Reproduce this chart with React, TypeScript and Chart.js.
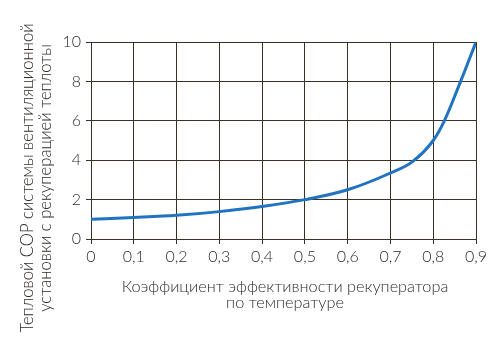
import React, { useEffect, useRef } from "react";
import { Chart, registerables } from "chart.js";

Chart.register(...registerables);

const efficiency = [0, 0.1, 0.2, 0.3, 0.4, 0.5, 0.6, 0.7, 0.75, 0.8, 0.826, 0.864, 0.9];
const cop = [1.0, 1.09, 1.2, 1.39, 1.65, 2.0, 2.5, 3.35, 3.9, 5.0, 6.0, 8.0, 10.0];
const xTitle = ["Коэффициент эффективности рекуператора", "по температуре"];
const yTitle = ["Тепловой COP системы вентиляционной", "установки с рекуперацией теплоты"];

const TEXT = "#2f2b26";
const GRID = "#3a3024";
const LINE = "#1f73c1";
const FONT = "Lato, 'Open Sans', sans-serif";

const titlePlugin = {
  id: "titles",
  afterDraw(chart: any) {
    const ctx = chart.ctx as CanvasRenderingContext2D;
    ctx.save();
    ctx.fillStyle = TEXT;
    ctx.font = `300 16.3px ${FONT}`;
    ctx.textAlign = "center";
    ctx.textBaseline = "alphabetic";
    ctx.fillText(xTitle[0], 285, 292);
    ctx.fillText(xTitle[1], 285, 308);
    ctx.translate(0, 178);
    ctx.rotate(-Math.PI / 2);
    ctx.textBaseline = "middle";
    ctx.font = `300 16.6px ${FONT}`;
    ctx.fillText(yTitle[0], 0, 28);
    ctx.fillText(yTitle[1], 0, 46);
    ctx.restore();
  },
};

export default function App() {
  const ref = useRef<HTMLCanvasElement | null>(null);
  useEffect(() => {
    document.body.style.margin = "0";
    const ctx = ref.current!;
    const chart = new Chart(ctx, {
      type: "line",
      data: {
        datasets: [
          {
            data: efficiency.map((x, i) => ({ x, y: cop[i] })),
            borderColor: LINE,
            borderWidth: 3,
            pointRadius: 0,
            cubicInterpolationMode: "monotone",
            fill: false,
          },
        ],
      },
      plugins: [titlePlugin],
      options: {
        animation: false,
        responsive: false,
        layout: { padding: { left: 14, right: 24, top: 42, bottom: 0 } },
        plugins: { legend: { display: false }, tooltip: { enabled: false } },
        scales: {
          x: {
            type: "linear",
            min: 0,
            max: 0.9,
            ticks: {
              stepSize: 0.1,
              color: TEXT,
              font: { family: FONT, size: 16, weight: "300" as any },
              padding: 3,
              callback: (v: any) => (v === 0 ? "0" : Number(v).toFixed(1).replace(".", ",")),
            },
            grid: { color: GRID, lineWidth: 1, tickLength: 5 },
            border: { color: GRID, width: 1 },
            afterFit: (s: any) => {
              s.height = 343 - 239;
            },
          },
          y: {
            type: "linear",
            min: 0,
            max: 10,
            ticks: {
              stepSize: 2,
              color: TEXT,
              font: { family: FONT, size: 16, weight: "300" as any },
              padding: 5,
            },
            grid: { color: GRID, lineWidth: 1, tickLength: 5 },
            border: { color: GRID, width: 1 },
            afterFit: (s: any) => {
              s.width = 91 - 14;
            },
          },
        },
      },
    });
    return () => chart.destroy();
  }, []);
  return (
    <div style={{ position: "absolute", left: 0, top: 0, width: 500, height: 343 }}>
      <canvas ref={ref} width={500} height={343} style={{ width: 500, height: 343 }} />
    </div>
  );
}
